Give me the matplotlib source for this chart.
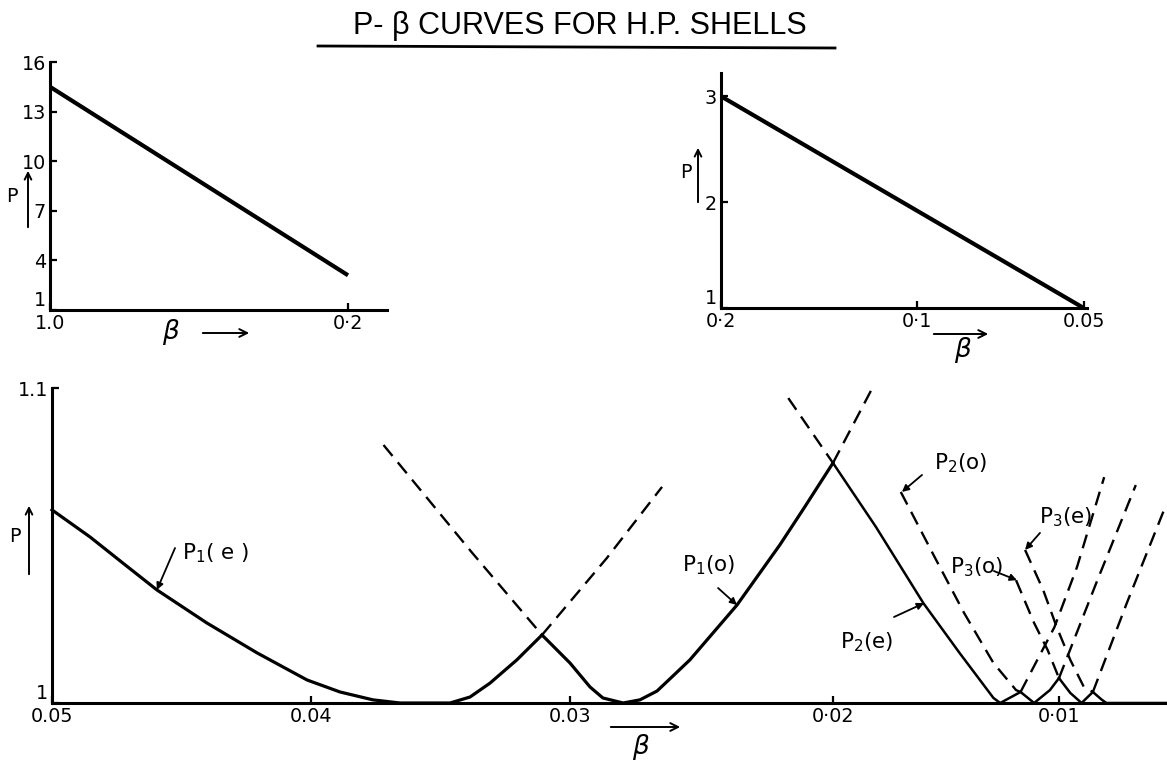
## P-beta curves for H.P. shells

import numpy as np
import matplotlib.pyplot as plt
from matplotlib import font_manager
from matplotlib.lines import Line2D
from matplotlib.patches import FancyArrowPatch

#Prefer a narrow lettering face when one is installed
def pick_font(names):
    for n in names:
        try:
            font_manager.findfont(n, fallback_to_default=False)
            return n, (1.0 if 'Narrow' in n or 'Condensed' in n else 0.86)
        except ValueError:
            pass
    return 'DejaVu Sans', 0.86

FONT, K = pick_font(['Liberation Sans Narrow', 'DejaVu Sans Condensed', 'DejaVu Sans'])
plt.rcParams['font.family'] = [FONT, 'DejaVu Sans']
plt.rcParams['mathtext.fontset'] = 'custom'
plt.rcParams['mathtext.rm'] = FONT
plt.rcParams['mathtext.it'] = FONT + ':italic'

#Top left panel: beta from 1.0 down to 0.2
tl_beta = [1.0, 0.2]
tl_p = [14.5, 3.1]
tl_yticks = [1, 4, 7, 10, 13, 16]
tl_xticks = [1.0, 0.2]
tl_xlabels = ['1.0', '0·2']

#Top right panel: beta from 0.2 down to 0.05
tr_beta = [0.2, 0.05]
tr_p = [3.0, 1.0]
tr_yticks = [1, 2, 3]
tr_xticks = [0.2, 0.1, 0.05]
tr_xlabels = ['0·2', '0·1', '0.05']

#Bottom panel ticks
bt_xticks = [0.05, 0.04, 0.03, 0.02, 0.01]
bt_xlabels = ['0.05', '0.04', '0.03', '0·02', '0·01']
bt_yticks = [1.0, 1.1]
bt_ylabels = ['1', '1.1']

#P1(e)
p1e_b = [0.0500, 0.04853, 0.04726, 0.04595, 0.04402, 0.04208, 0.04015, 0.03888, 0.03761,
         0.03656, 0.03463, 0.03386, 0.03309, 0.03205, 0.03108]
p1e_p = [1.0613, 1.0527, 1.0444, 1.0359, 1.0254, 1.0159, 1.0073, 1.0035, 1.0010,
         1.0000, 1.0000, 1.0019, 1.0063, 1.0137, 1.0216]
p1e_db = [0.03108, 0.0286, 0.0265]
p1e_dp = [1.0216, 1.0460, 1.0686]

#P1(o)
p1o_lb = [0.0372, 0.0338, 0.03108]
p1o_lp = [1.0819, 1.0479, 1.0216]
p1o_b = [0.03108, 0.0300, 0.02924, 0.02875, 0.02798, 0.02734, 0.02669, 0.02612, 0.02544,
         0.02365, 0.02202, 0.02110, 0.0200]
p1o_p = [1.0216, 1.0127, 1.0051, 1.0016, 1.0000, 1.0010, 1.0038, 1.0083, 1.0137,
         1.0311, 1.0502, 1.0619, 1.0762]
p1o_rb = [0.0200, 0.0183]
p1o_rp = [1.0762, 1.0994]

#P2(e)
p2e_lb = [0.0217, 0.0200]
p2e_lp = [1.0968, 1.0762]
p2e_b = [0.0200, 0.0181, 0.0160, 0.0144, 0.0129, 0.0126, 0.0117]
p2e_p = [1.0762, 1.0559, 1.0317, 1.0159, 1.0016, 1.0000, 1.0035]
p2e_rb = [0.0117, 0.0102, 0.0092, 0.0080]
p2e_rp = [1.0035, 1.0241, 1.0432, 1.0717]

#P2(o)
p2o_lb = [0.0170, 0.0155, 0.0142, 0.0129, 0.0119, 0.0117]
p2o_lp = [1.0670, 1.0463, 1.0286, 1.0127, 1.0041, 1.0035]
p2o_b = [0.0117, 0.0111, 0.0104, 0.0100]
p2o_p = [1.0035, 1.0000, 1.0041, 1.0079]
p2o_rb = [0.0100, 0.0083, 0.0066]
p2o_rp = [1.0079, 1.0390, 1.0692]

#P3(o)
p3o_lb = [0.0119, 0.0111, 0.0105, 0.0100]
p3o_lp = [1.0390, 1.0254, 1.0168, 1.0079]
p3o_b = [0.0100, 0.0095, 0.0090, 0.0085]
p3o_p = [1.0079, 1.0032, 1.0000, 1.0035]
p3o_rb = [0.0085, 0.0070, 0.0053]
p3o_rp = [1.0035, 1.0317, 1.0622]

#P3(e)
p3e_lb = [0.0115, 0.0107, 0.0101, 0.0095, 0.0089, 0.0085]
p3e_lp = [1.0486, 1.0359, 1.0241, 1.0137, 1.0051, 1.0035]
p3e_b = [0.0085, 0.0081, 0.0079, 0.0052]
p3e_p = [1.0035, 1.0010, 1.0000, 1.0000]


W, H = 1167, 763
fig = plt.figure(figsize=(W/100, H/100), dpi=100)

def box(l, t, r, b):
    return [l/W, 1-b/H, (r-l)/W, (b-t)/H]

def fig_pt(x, y):
    return (x/W, 1-y/H)

#Hand drawn beta axes are not evenly spaced, so map ticks onto their positions
def warp_x(ax, vals, pix):
    v = np.asarray(vals, float)
    p = -np.asarray(pix, float)
    o = np.argsort(v)
    v, p = v[o], p[o]
    v = np.r_[v[0]-(v[1]-v[0]), v, v[-1]+(v[-1]-v[-2])]
    p = np.r_[p[0]-(p[1]-p[0]), p, p[-1]+(p[-1]-p[-2])]
    fwd = lambda x: np.interp(x, v, p)
    inv = lambda y: np.interp(y, p, v)
    ax.set_xscale('function', functions=(fwd, inv))

def style(ax):
    for s in ['top', 'right']:
        ax.spines[s].set_visible(False)
    for s in ['left', 'bottom']:
        ax.spines[s].set_linewidth(2.2)
    ax.tick_params(direction='in', length=5, width=1.6, labelsize=16*K, pad=3)
    ax.get_yticklabels()[0].set_va('bottom')

#Top left
ax1 = fig.add_axes(box(50, 62, 387, 310))
ax1.plot(tl_beta, tl_p, color='black', lw=3, solid_capstyle='butt')
ax1.set_xlim(1.0, 0.0953)
ax1.set_ylim(1, 16)
ax1.set_yticks(tl_yticks)
ax1.set_xticks(tl_xticks, tl_xlabels)
style(ax1)

#Top right
ax2 = fig.add_axes(box(721, 73, 1087, 308))
warp_x(ax2, tr_xticks, [721, 917, 1084])
ax2.plot(tr_beta, tr_p, color='black', lw=3, solid_capstyle='butt')
ax2.set_xlim(0.2, 0.049)
ax2.set_ylim(1, 3.22)
ax2.set_yticks(tr_yticks)
ax2.set_xticks(tr_xticks, tr_xlabels)
style(ax2)

#Bottom
ax3 = fig.add_axes(box(52, 388, 1167, 703))
warp_x(ax3, bt_xticks, [52, 311, 570, 833, 1059])
ax3.set_xlim(0.05, 0.00522)
ax3.set_ylim(1.0, 1.1)
ax3.set_yticks(bt_yticks, bt_ylabels)
ax3.set_xticks(bt_xticks, bt_xlabels)
style(ax3)

solid = dict(color='black', lw=2.3, clip_on=False, solid_joinstyle='round')
thin = dict(color='black', lw=1.8, clip_on=False, solid_joinstyle='round')
dash = dict(color='black', lw=1.7, dashes=(6, 3.5), clip_on=False)

ax3.plot(p1e_b, p1e_p, **solid)
ax3.plot(p1e_db, p1e_dp, **dash)
ax3.plot(p1o_lb, p1o_lp, **dash)
ax3.plot(p1o_b, p1o_p, **solid)
ax3.plot(p1o_rb, p1o_rp, **dash)
ax3.plot(p2e_lb, p2e_lp, **dash)
ax3.plot(p2e_b, p2e_p, **thin)
ax3.plot(p2e_rb, p2e_rp, **dash)
ax3.plot(p2o_lb, p2o_lp, **dash)
ax3.plot(p2o_b, p2o_p, **thin)
ax3.plot(p2o_rb, p2o_rp, **dash)
ax3.plot(p3o_lb, p3o_lp, **dash)
ax3.plot(p3o_b, p3o_p, **thin)
ax3.plot(p3o_rb, p3o_rp, **dash)
ax3.plot(p3e_lb, p3e_lp, **dash)
ax3.plot(p3e_b, p3e_p, **thin)

#Curve labels with pointers (text position, arrow tail, arrow tip)
labels = [
    ('P$_1$( e )', (0.04498, 1.0476), (0.04525, 1.0492), (0.04595, 1.0359)),
    ('P$_1$(o)', (0.02574, 1.0438), (0.02437, 1.0365), (0.02365, 1.0311)),
    ('P$_2$(o)', (0.01553, 1.0762), (0.01606, 1.0724), (0.01695, 1.0670)),
    ('P$_2$(e)', (0.01969, 1.0194), (0.01730, 1.0273), (0.01597, 1.0317)),
    ('P$_3$(o)', (0.01482, 1.0432), (0.01288, 1.0419), (0.01186, 1.0390)),
    ('P$_3$(e)', (0.01088, 1.0590), (0.01084, 1.0540), (0.01150, 1.0486)),
]
for txt, pos, tail, tip in labels:
    ax3.text(pos[0], pos[1], txt, fontsize=18*K, ha='left', va='center')
    ax3.annotate('', xy=tip, xytext=tail,
                 arrowprops=dict(arrowstyle='-|>', lw=1.3, color='black',
                                 mutation_scale=10, shrinkA=0, shrinkB=0))

#P axis labels with upward arrows
for px, py, x0, y0, y1 in [(12, 197, 28, 230, 168), (686, 172, 698, 205, 145), (15, 537, 29, 577, 503)]:
    fig.text(*fig_pt(px, py), 'P', fontsize=16*K, ha='center', va='center')
    fig.add_artist(FancyArrowPatch(fig_pt(x0, y0), fig_pt(x0, y1), transform=fig.transFigure,
                                   arrowstyle='->', mutation_scale=12, lw=1.4, color='black'))

#beta axis labels with arrows
for bx, by, x0, x1, ay in [(170, 332, 200, 252, 333), (962, 350, 931, 991, 334), (640, 747, 608, 683, 727)]:
    fig.text(*fig_pt(bx, by), 'β', fontsize=19, style='italic', ha='center', va='center')
    fig.add_artist(FancyArrowPatch(fig_pt(x0, ay), fig_pt(x1, ay), transform=fig.transFigure,
                                   arrowstyle='->', mutation_scale=14, lw=1.4, color='black'))

#Title and underline
fig.text(*fig_pt(580, 26), 'P- β CURVES FOR H.P. SHELLS', fontsize=22, ha='center', va='center',
         family=['Liberation Sans', 'DejaVu Sans'])
fig.add_artist(Line2D([318/W, 835/W], [1-46/H, 1-48/H], color='black', lw=2))

plt.savefig('out.png', dpi=100)
